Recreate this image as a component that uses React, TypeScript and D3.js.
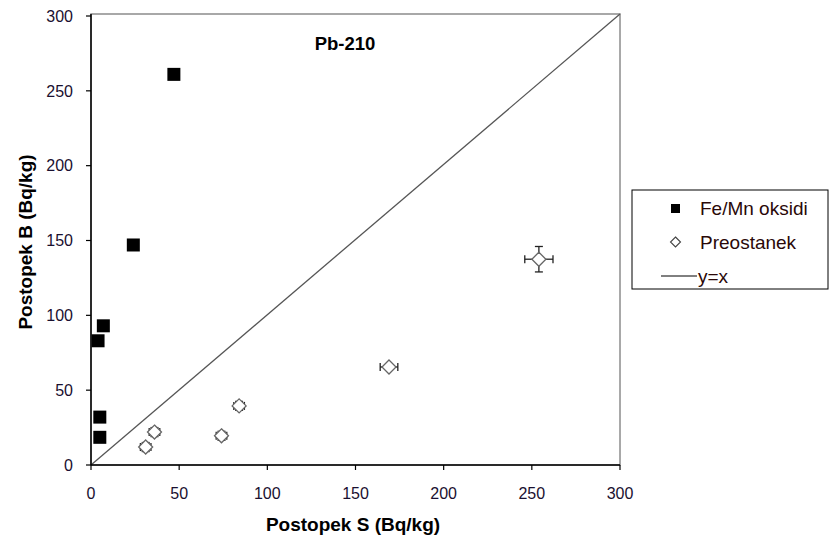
import * as d3 from "d3";

const W = 831;
const H = 544;
const M = { left: 91, right: 620, top: 16, bottom: 465 };

const ticks = [0, 50, 100, 150, 200, 250, 300];

// Fe/Mn oksidi (filled squares)
const feMnX = [47, 24, 7, 4, 5, 5];
const feMnY = [261, 147, 93, 83, 32, 18.5];

// Preostanek (open diamonds with error bars)
const preX = [31, 36, 74, 84, 169, 254];
const preY = [12, 22, 19.5, 39.5, 65.5, 137.5];
const preXErr = [3, 3, 3, 3, 5, 8];
const preYErr = [3, 3, 3, 3, 2, 8.5];

const legendLabels = ["Fe/Mn oksidi", "Preostanek", "y=x"];

const FONT = "'Liberation Sans', Arial, sans-serif";

export default function App() {
  const x = d3.scaleLinear().domain([0, 300]).range([M.left, M.right]);
  const y = d3.scaleLinear().domain([0, 300]).range([M.bottom, M.top]);
  const diamond = (cx: number, cy: number, r: number) =>
    `M${cx},${cy - r}L${cx + r},${cy}L${cx},${cy + r}L${cx - r},${cy}Z`;

  return (
    <svg
      width={W}
      height={H}
      style={{ position: "absolute", left: 0, top: 0, background: "#fff" }}
      fontFamily={FONT}
    >
      {/* plot frame */}
      <rect
        x={M.left}
        y={M.top - 2}
        width={M.right - M.left}
        height={M.bottom - M.top + 2}
        fill="#fff"
        stroke="#8c8c8c"
        strokeWidth={1.5}
      />
      {/* y = x */}
      <line x1={x(0)} y1={y(0)} x2={x(300)} y2={y(300) - 2} stroke="#555" strokeWidth={1.3} />

      {/* axes */}
      <line x1={M.left} y1={M.top - 2} x2={M.left} y2={M.bottom} stroke="#000" strokeWidth={1.5} />
      <line x1={M.left} y1={M.bottom} x2={M.right} y2={M.bottom} stroke="#000" strokeWidth={1.5} />
      {ticks.map((t) => (
        <g key={"y" + t}>
          <line x1={M.left - 5} x2={M.left} y1={y(t)} y2={y(t)} stroke="#000" strokeWidth={1.2} />
          <text x={73} y={y(t)} dy="0.36em" textAnchor="end" fontSize={16} fill="#1a1030">
            {t}
          </text>
        </g>
      ))}
      {ticks.map((t) => (
        <g key={"x" + t}>
          <line x1={x(t)} x2={x(t)} y1={M.bottom} y2={M.bottom + 5} stroke="#000" strokeWidth={1.2} />
          <text x={x(t)} y={493} dy="0.36em" textAnchor="middle" fontSize={16} fill="#1a1030">
            {t}
          </text>
        </g>
      ))}

      {/* titles */}
      <text x={353} y={524} dy="0.36em" textAnchor="middle" fontSize={19} fontWeight="bold">
        Postopek S (Bq/kg)
      </text>
      <text
        transform={`translate(25,242) rotate(-90)`}
        dy="0.36em"
        textAnchor="middle"
        fontSize={19}
        fontWeight="bold"
      >
        Postopek B (Bq/kg)
      </text>
      <text x={345} y={43} dy="0.36em" textAnchor="middle" fontSize={18.5} fontWeight="bold">
        Pb-210
      </text>

      {/* Fe/Mn squares */}
      {feMnX.map((v, i) => (
        <rect key={"s" + i} x={x(v) - 6.5} y={y(feMnY[i]) - 6.5} width={13} height={13} fill="#000" />
      ))}

      {/* Preostanek diamonds + error bars */}
      {preX.map((v, i) => {
        const cx = x(v);
        const cy = y(preY[i]);
        const x0 = x(v - preXErr[i]);
        const x1 = x(v + preXErr[i]);
        const y0 = y(preY[i] - preYErr[i]);
        const y1 = y(preY[i] + preYErr[i]);
        return (
          <g key={"d" + i} stroke="#222" strokeWidth={1.3} fill="none">
            <line x1={x0} x2={x1} y1={cy} y2={cy} />
            <line x1={x0} x2={x0} y1={cy - 4} y2={cy + 4} />
            <line x1={x1} x2={x1} y1={cy - 4} y2={cy + 4} />
            <line x1={cx} x2={cx} y1={y0} y2={y1} />
            <line x1={cx - 4} x2={cx + 4} y1={y0} y2={y0} />
            <line x1={cx - 4} x2={cx + 4} y1={y1} y2={y1} />
            <path d={diamond(cx, cy, 7)} fill="#fff" stroke="#666" strokeWidth={1.3} />
          </g>
        );
      })}

      {/* legend */}
      <rect x={632} y={190} width={196} height={99} fill="#fff" stroke="#000" strokeWidth={1} />
      <rect x={671} y={204} width={9} height={9} fill="#000" />
      <path d={diamond(675.5, 242, 5)} fill="#fff" stroke="#444" strokeWidth={1.1} />
      <line x1={661} x2={697} y1={276} y2={276} stroke="#000" strokeWidth={1} />
      {legendLabels.map((l, i) => (
        <text
          key={l}
          x={i === 2 ? 698 : 700}
          y={208 + i * 34}
          dy="0.36em"
          fontSize={19}
          fill="#2a0808"
        >
          {l}
        </text>
      ))}
    </svg>
  );
}
